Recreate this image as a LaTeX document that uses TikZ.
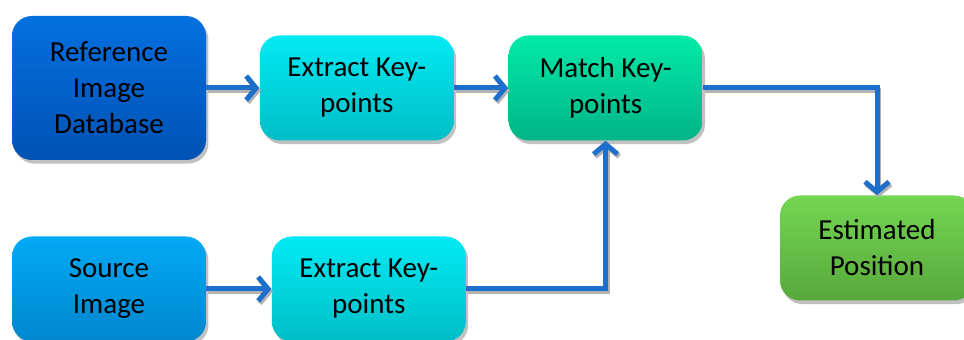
\documentclass[tikz,border=0pt]{standalone}
\usepackage{fontspec}
\setmainfont{Carlito}
\usetikzlibrary{arrows.meta, positioning, shadows}

\definecolor{refA}{HTML}{0470E0}
\definecolor{refB}{HTML}{0052B4}
\definecolor{srcA}{HTML}{02AAF4}
\definecolor{srcB}{HTML}{0086CE}
\definecolor{extA}{HTML}{02EAF4}
\definecolor{extB}{HTML}{00BEC6}
\definecolor{matA}{HTML}{02EAA8}
\definecolor{matB}{HTML}{00B486}
\definecolor{estA}{HTML}{74D652}
\definecolor{estB}{HTML}{58A83C}
\definecolor{flow}{HTML}{1C6FCA}

\begin{document}
\begin{tikzpicture}[
      x=0.5pt, y=-0.5pt,
      font=\fontsize{14.5}{18}\selectfont,
      block/.style={rectangle, rounded corners=10pt, minimum width=97pt, minimum height=52.5pt,
        align=center, inner sep=2pt, drop shadow={shadow xshift=1.2pt, shadow yshift=-1.8pt, fill=black!35, opacity=0.7}},
      arrow/.style={-{Straight Barb[length=5pt, width=12pt, line width=2.5pt]}, line width=2.5pt, draw=flow,
        preaction={draw=black!30, line width=2.5pt, transform canvas={shift={(0.8pt,-1.2pt)}}}}
    ]
    \useasboundingbox (0,0) rectangle (964,340);

    \node[block, minimum height=72pt, top color=refA, bottom color=refB] (refdb) at (109,88) {Reference\\Image\\Database};
    \node[block, top color=extA, bottom color=extB, right=26.5pt of refdb] (extref) {Extract Key-\\points};
    \node[block, top color=matA, bottom color=matB, right=27pt of extref] (match) {Match Key-\\points};
    \node[block, top color=estA, bottom color=estB] (estpos) at (877,248) {Estimated\\Position};

    \node[block, top color=srcA, bottom color=srcB] (srcimg) at (109,289) {Source\\Image};
    \node[block, top color=extA, bottom color=extB, right=32.5pt of srcimg] (extsrc) {Extract Key-\\points};

    \draw[arrow] (refdb) -- (extref);
    \draw[arrow] (extref) -- (match);
    \draw[arrow] (match.east) -| (estpos.north);
    \draw[arrow] (srcimg) -- (extsrc);
    \draw[arrow] (extsrc.east) -| (match.south);
  \end{tikzpicture}
\end{document}
